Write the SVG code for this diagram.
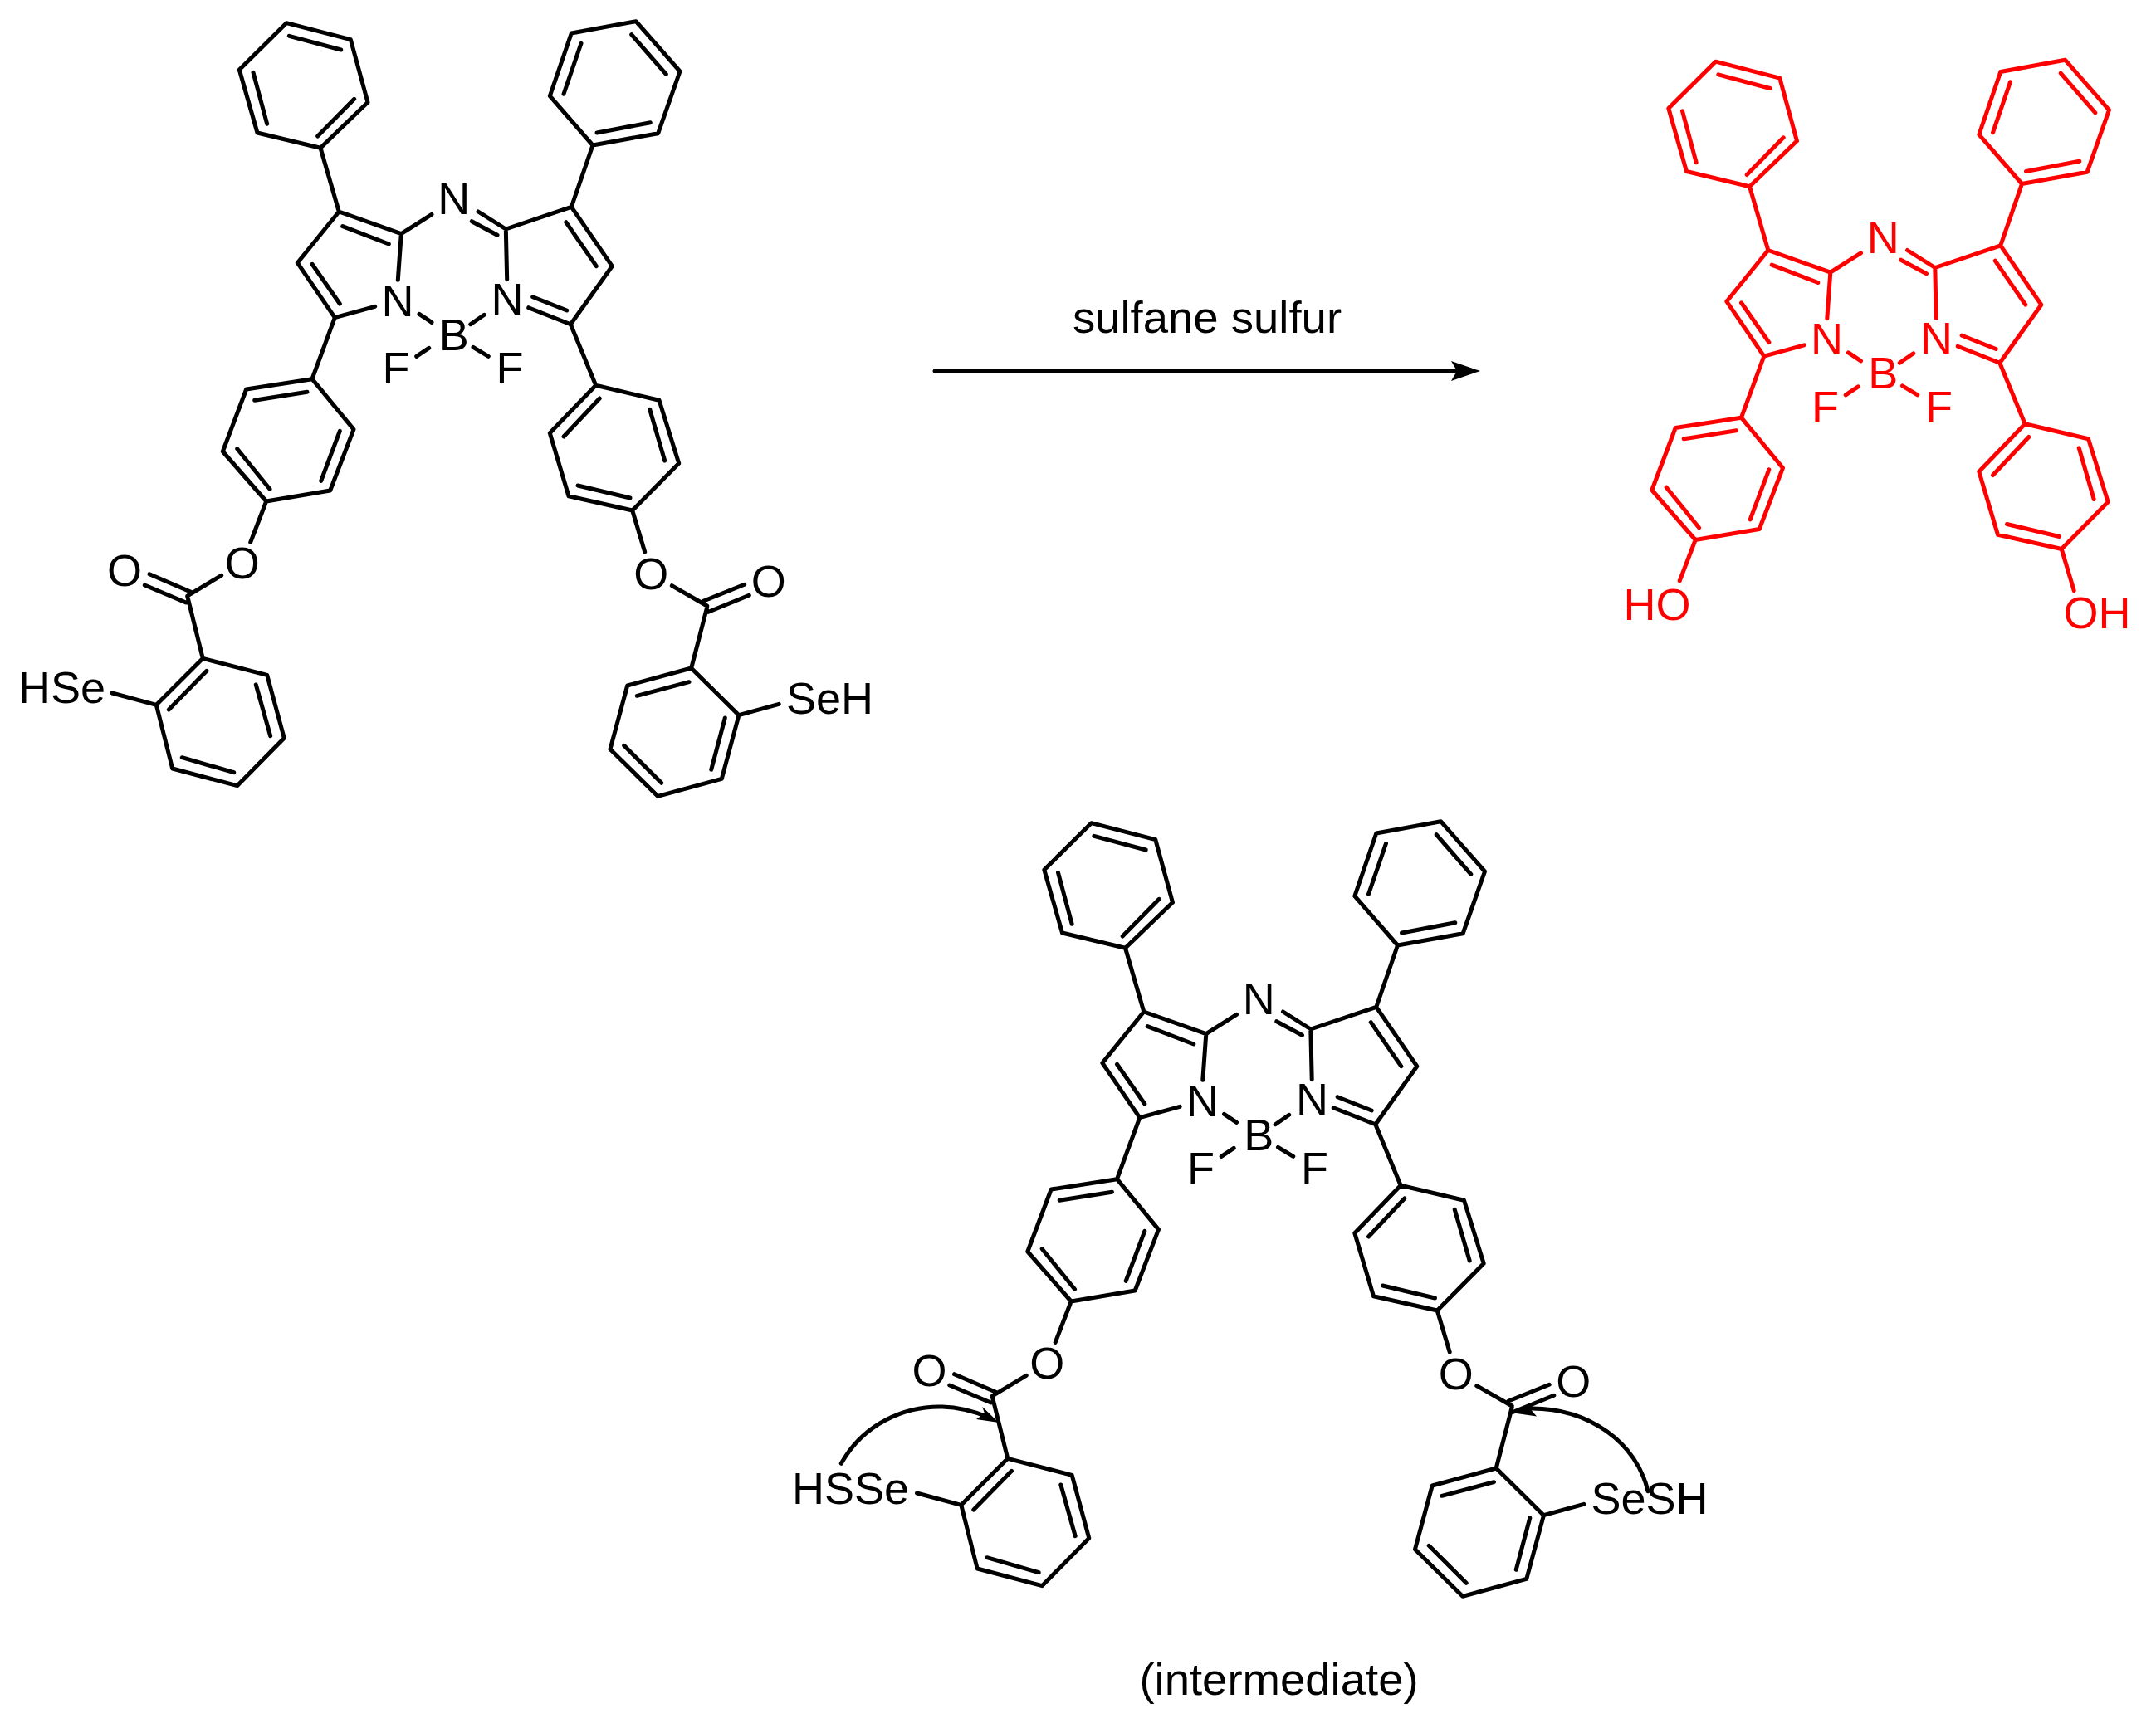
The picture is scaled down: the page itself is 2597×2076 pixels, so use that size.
<svg xmlns="http://www.w3.org/2000/svg" xmlns:xlink="http://www.w3.org/1999/xlink" width="2597" height="2076" viewBox="0 0 2597 2076">
<style>
.b{fill:none;stroke-width:5;stroke-linecap:round;stroke-linejoin:round}
.k{stroke:#000}
.r{stroke:#f00}
text{font-family:"Liberation Sans",Arial,sans-serif;font-size:54px}
.m{text-anchor:middle}
.tk{fill:#000}
.tr{fill:#f00}
.lab{font-size:54.5px;text-anchor:middle;fill:#000}
</style>
<defs>
<path id="core" d="M345,27.7L422.3,47.7L443,123.3L386,178.3L310,160L288.3,84ZM348.3,43.3L410.7,60M426.7,119.3L382.7,164M305,87.3L321.7,149.3M386,178.3L408.3,255
M766,25.7L819,86L792.7,160.7L714,175L662.3,115.7L688.3,40ZM760.7,41.7L802.3,89.3M783.3,147.7L719,160M679,113.3L700,52.3M714,175L688.3,249.3
M451.7,369.3L403.3,382.7L358.3,316.7L408.3,255L483.3,281.7L479.3,337.3M483.3,281.7L520,258.3M412.7,272.7L468.3,294M376,318.3L409.3,366
M576,255L609.3,276L688.3,249.3L737.3,320.7L687.3,390.7L636.7,370.7M568.3,266.7L599,283.3M609.3,276L610.7,336.7M641.7,357.7L682.7,374M681.7,267.7L718.3,320.7
M403.3,382.7L376,456.7M687.3,390.7L717.7,464.3
M505,378.3L520,388.3M583.3,379.3L566.7,390.7M516.7,419.3L501.7,429.3M570,418.3L588.3,429.3
M376,456.7L426,517.3L397.7,591L320.7,604L268.3,544L296.7,469ZM370,472.3L306.7,482.3M409.3,519.3L386.7,579.3M325,589.3L285.7,540.7M320.7,604L301.7,653.3
M717.7,464.3L794,482.3L817.7,558.3L761.7,615L685,597.7L662.3,521.7ZM722.3,480L679,526M782.7,493.3L800.7,555M759,600L696,585M761.7,615L776.7,665"/>
<path id="ester" d="M226.7,717.3L266.7,693.3M230,713.3L180,691.7M224,726L174.3,705M225.7,718.3L244.3,793.3M244.3,793.3L321.7,813.3L342.3,889.3L285.7,946.7L207.7,926L188.3,849.3ZM249,808.3L203.3,855M308.3,825L325.7,886.7M281.7,930.7L219.3,912.7M188.3,849.3L135,835
M809.3,705.7L851.7,730M847.7,724L896.7,704.3M853.3,737.3L902.3,717.3M851.7,731.7L832.7,805M832.7,805L890,861.7L869.3,938.3L792.3,959.3L735,902.7L755.7,826ZM830,821.7L767.3,838.3M873.3,865L856.7,927.3M796.7,943.3L751.7,898.3M890,861.7L938.3,848.3"/>
</defs>

<g id="reactant">
<use href="#core" class="b k"/>
<use href="#ester" class="b k"/>
<g class="tk">
<text class="m" x="546.7" y="258.3">N</text>
<text class="m" x="479" y="380.7">N</text>
<text class="m" x="611" y="379.3">N</text>
<text class="m" x="546.7" y="421.7">B</text>
<text class="m" x="477" y="462.3">F</text>
<text class="m" x="614" y="462.3">F</text>
<text class="m" x="291.7" y="696.5">O</text>
<text class="m" x="150" y="706">O</text>
<text class="m" x="784.3" y="709.5">O</text>
<text class="m" x="925.7" y="718.8">O</text>
<text x="22" y="847.3">HSe</text>
<text x="947" y="860">SeH</text>
</g>
</g>

<g id="product" transform="translate(1721.5,46.5)">
<use href="#core" class="b r"/>
<g class="tr">
<text class="m" x="546.7" y="258.3">N</text>
<text class="m" x="479" y="380.7">N</text>
<text class="m" x="611" y="379.3">N</text>
<text class="m" x="546.7" y="421.7">B</text>
<text class="m" x="477" y="462.3">F</text>
<text class="m" x="614" y="462.3">F</text>
<text x="234" y="700">HO</text>
<text x="764" y="710">OH</text>
</g>
</g>

<g id="intermediate" transform="translate(969.5,964)">
<use href="#core" class="b k"/>
<use href="#ester" class="b k"/>
<g class="tk">
<text class="m" x="546.7" y="258.3">N</text>
<text class="m" x="479" y="380.7">N</text>
<text class="m" x="611" y="379.3">N</text>
<text class="m" x="546.7" y="421.7">B</text>
<text class="m" x="477" y="462.3">F</text>
<text class="m" x="614" y="462.3">F</text>
<text class="m" x="291.7" y="696.5">O</text>
<text class="m" x="150" y="706">O</text>
<text class="m" x="784.3" y="709.5">O</text>
<text class="m" x="925.7" y="718.8">O</text>
<text x="-15.5" y="847.7">HSSe</text>
<text x="947" y="860">SeSH</text>
</g>
</g>

<g id="labels">
<text class="lab" x="1454" y="400.5">sulfane sulfur</text>
<text class="lab" x="1540.5" y="2042">(intermediate)</text>
</g>

<g id="connectors">
<path class="b k" d="M1126,447H1765"/>
<polygon points="1783,447 1748,435 1755,447 1748,459" fill="#000"/>
<path class="b k" d="M1013.3,1763.3C1040,1715 1090,1694 1135,1695C1155,1695.5 1175,1701 1192,1708"/>
<polygon points="1203,1714 1183.3,1695 1186,1703 1176,1710" fill="#000"/>
<path class="b k" d="M1985,1796.7C1972,1740 1915,1695 1840,1697"/>
<polygon points="1820,1702 1849,1690.5 1843,1697.3 1851,1706.5" fill="#000"/>
</g>
</svg>
